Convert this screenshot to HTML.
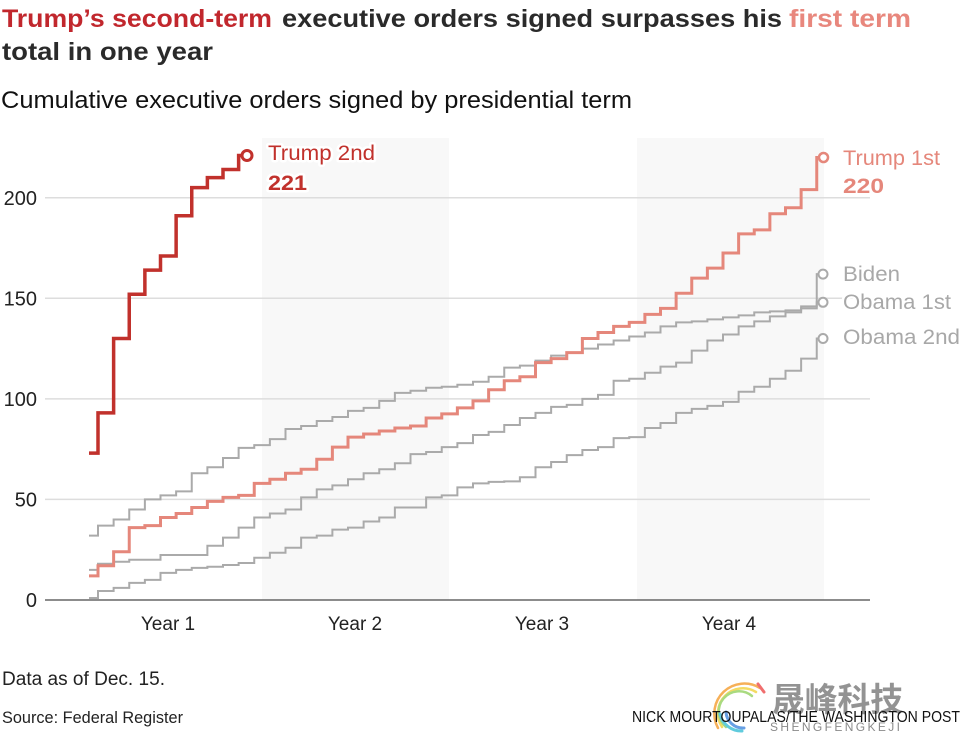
<!DOCTYPE html>
<html>
<head>
<meta charset="utf-8">
<style>
  html, body { margin: 0; padding: 0; background: #fff; }
  body { width: 961px; height: 733px; overflow: hidden; }
  svg { display: block; }
  text { font-family: "Liberation Sans", Arial, sans-serif; }
</style>
</head>
<body>
<svg width="961" height="733" viewBox="0 0 961 733" xmlns="http://www.w3.org/2000/svg">
  <rect x="0" y="0" width="961" height="733" fill="#fff"/>

  <!-- Title -->
  <text x="2" y="27" font-size="25" font-weight="bold" fill="#c1272d" textLength="270" lengthAdjust="spacingAndGlyphs">Trump’s second-term</text>
  <text x="282" y="27" font-size="25" font-weight="bold" fill="#2a2a2a" textLength="500" lengthAdjust="spacingAndGlyphs">executive orders signed surpasses his</text>
  <text x="789" y="27" font-size="25" font-weight="bold" fill="#e8877d" textLength="122" lengthAdjust="spacingAndGlyphs">first term</text>
  <text x="2" y="60" font-size="25" font-weight="bold" fill="#2a2a2a" textLength="211" lengthAdjust="spacingAndGlyphs">total in one year</text>

  <!-- Subtitle -->
  <text x="1" y="108" font-size="24" fill="#111" textLength="631" lengthAdjust="spacingAndGlyphs">Cumulative executive orders signed by presidential term</text>

  <!-- Shaded year bands -->
  <rect x="262" y="138" width="187" height="462" fill="#f8f8f8"/>
  <rect x="637" y="138" width="187" height="462" fill="#f8f8f8"/>

  <!-- Gridlines -->
  <g stroke="#dddddd" stroke-width="1.5">
    <line x1="45" y1="197.7" x2="870" y2="197.7"/>
    <line x1="45" y1="298.3" x2="870" y2="298.3"/>
    <line x1="45" y1="398.85" x2="870" y2="398.85"/>
    <line x1="45" y1="499.4" x2="870" y2="499.4"/>
  </g>
  <line x1="45" y1="600" x2="870" y2="600" stroke="#666" stroke-width="1.5"/>

  <!-- Y tick labels -->
  <g font-size="20" fill="#222" text-anchor="end">
    <text x="37" y="205">200</text>
    <text x="37" y="305.5">150</text>
    <text x="37" y="406">100</text>
    <text x="37" y="506.5">50</text>
    <text x="37" y="607">0</text>
  </g>

  <!-- X labels -->
  <g font-size="19" fill="#222" text-anchor="middle">
    <text x="168" y="630">Year 1</text>
    <text x="355" y="630">Year 2</text>
    <text x="542" y="630">Year 3</text>
    <text x="729" y="630">Year 4</text>
  </g>

  <!-- Series (data coords: x = month step index, y = value) -->
  <g transform="translate(98,600) scale(15.625,-2.0115)" fill="none" stroke-linejoin="miter" stroke-linecap="butt">
    <!-- Obama 2nd -->
    <path vector-effect="non-scaling-stroke" stroke="#aaaaaa" stroke-width="2"
      d="M-0.576 1 H0 V4.5 H1 V6 H2 V8.5 H3 V10 H4 V13.5 H5 V15 H6 V16 H7 V16.5 H8 V17.4 H9 V18.4 H10 V21 H11 V23.5 H12 V26 H13 V31 H14 V32 H15 V35 H16 V36 H17 V39 H18 V41 H19 V46 H20 V46 H21 V51 H22 V52 H23 V56 H24 V58 H25 V58.7 H26 V59 H27 V61 H28 V66 H29 V68.6 H30 V72 H31 V74.6 H32 V76 H33 V80.5 H34 V81 H35 V85.5 H36 V88 H37 V93 H38 V95 H39 V96.5 H40 V98.5 H41 V103.5 H42 V106 H43 V110 H44 V114 H45 V120 H46 V130 H46.1"/>
    <!-- Obama 1st -->
    <path vector-effect="non-scaling-stroke" stroke="#aaaaaa" stroke-width="2"
      d="M-0.576 15 H0 V18 H1 V19 H2 V20 H3 V20 H4 V22.4 H5 V22.4 H6 V22.4 H7 V27 H8 V31 H9 V36 H10 V41 H11 V43 H12 V45 H13 V51 H14 V55 H15 V57 H16 V60 H17 V63 H18 V65 H19 V68 H20 V72.5 H21 V73.6 H22 V76 H23 V78 H24 V82 H25 V83.6 H26 V87 H27 V90.5 H28 V93 H29 V96 H30 V97 H31 V100 H32 V102 H33 V109 H34 V110 H35 V113 H36 V116 H37 V118 H38 V124 H39 V129 H40 V132 H41 V136 H42 V138.5 H43 V141 H44 V143 H45 V145 H46 V148 H46.1"/>
    <!-- Biden -->
    <path vector-effect="non-scaling-stroke" stroke="#aaaaaa" stroke-width="2"
      d="M-0.576 32 H0 V37 H1 V40 H2 V45 H3 V50 H4 V52 H5 V54 H6 V63 H7 V66 H8 V70.6 H9 V75.6 H10 V77 H11 V80 H12 V85 H13 V86.5 H14 V89 H15 V91 H16 V94 H17 V95.5 H18 V99 H19 V103 H20 V104 H21 V105.5 H22 V106 H23 V107 H24 V108.5 H25 V111 H26 V115.5 H27 V116.5 H28 V119 H29 V121.5 H30 V123 H31 V125 H32 V127 H33 V129 H34 V131 H35 V133 H36 V136 H37 V138 H38 V138.5 H39 V139.5 H40 V140.5 H41 V141.5 H42 V143 H43 V143.5 H44 V144 H45 V146 H46 V162 H46.1"/>
    <!-- Trump 1st -->
    <path vector-effect="non-scaling-stroke" stroke="#e5877b" stroke-width="3"
      d="M-0.576 12 H0 V17 H1 V24 H2 V36 H3 V37 H4 V41 H5 V43 H6 V46 H7 V49 H8 V51 H9 V52 H10 V58 H11 V60 H12 V63 H13 V65 H14 V70 H15 V76 H16 V81 H17 V82.5 H18 V84 H19 V85.5 H20 V86.5 H21 V90.5 H22 V92.5 H23 V95.5 H24 V99 H25 V104.5 H26 V109 H27 V111 H28 V118 H29 V120 H30 V123 H31 V130 H32 V133 H33 V136 H34 V138 H35 V142 H36 V145 H37 V152.5 H38 V160 H39 V165 H40 V172.5 H41 V182 H42 V184 H43 V192 H44 V195 H45 V204 H46 V220 H46.1"/>
    <!-- Trump 2nd -->
    <path vector-effect="non-scaling-stroke" stroke="#c1312c" stroke-width="3.5"
      d="M-0.576 73 H0 V93 H1 V130 H2 V152 H3 V164 H4 V171 H5 V191 H6 V205 H7 V210 H8 V214 H9 V221 H9.2"/>
  </g>

  <!-- End circles -->
  <g fill="#fff">
    <circle cx="823" cy="338.5" r="4.5" stroke="#aaaaaa" stroke-width="2"/>
    <circle cx="823" cy="302.3" r="4.5" stroke="#aaaaaa" stroke-width="2"/>
    <circle cx="823" cy="274.1" r="4.5" stroke="#aaaaaa" stroke-width="2"/>
    <circle cx="823.5" cy="157.5" r="4.5" stroke="#e5877b" stroke-width="2.5"/>
    <circle cx="247" cy="155.5" r="5" stroke="#c1312c" stroke-width="3"/>
  </g>

  <!-- Series labels with white halo -->
  <g font-size="21.5" stroke="#fff" stroke-width="5" stroke-linejoin="round" paint-order="stroke">
    <text x="268" y="160" fill="#c1312c" textLength="107" lengthAdjust="spacingAndGlyphs">Trump 2nd</text>
    <text x="268" y="190" fill="#c1312c" font-weight="bold" textLength="39" lengthAdjust="spacingAndGlyphs">221</text>
    <text x="843" y="165" fill="#e5877b" textLength="97" lengthAdjust="spacingAndGlyphs">Trump 1st</text>
    <text x="843" y="193" fill="#e5877b" font-weight="bold" textLength="41" lengthAdjust="spacingAndGlyphs">220</text>
    <text x="843" y="281" fill="#a8a8a8" textLength="57" lengthAdjust="spacingAndGlyphs">Biden</text>
    <text x="843" y="309" fill="#a8a8a8" textLength="108" lengthAdjust="spacingAndGlyphs">Obama 1st</text>
    <text x="843" y="344" fill="#a8a8a8" textLength="117" lengthAdjust="spacingAndGlyphs">Obama 2nd</text>
  </g>

  <!-- Footer -->
  <text x="2" y="685" font-size="19" fill="#222" textLength="163" lengthAdjust="spacingAndGlyphs">Data as of Dec. 15.</text>
  <text x="2" y="723" font-size="17" fill="#222" textLength="181" lengthAdjust="spacingAndGlyphs">Source: Federal Register</text>

  <!-- Watermark -->
  <g fill="none" stroke-linecap="round" opacity="0.85">
    <path d="M760 688 A 30 30 0 0 0 718 728" stroke="#f5a33c" stroke-width="2.5"/>
    <path d="M756 692 A 25 25 0 0 0 722 727" stroke="#f2d54a" stroke-width="2.5"/>
    <path d="M752 696 A 20 20 0 0 0 726 727" stroke="#9bd46a" stroke-width="2.5"/>
    <path d="M720 714 A 22 22 0 0 0 742 731" stroke="#45c3d8" stroke-width="3"/>
    <path d="M726 712 A 17 17 0 0 0 744 728" stroke="#4d8fe0" stroke-width="3"/>
    <path d="M758 684 L764 692" stroke="#ee5555" stroke-width="3"/>
  </g>
  <text x="772" y="711" font-size="33" font-weight="bold" fill="#888" opacity="0.9" style="font-family:'Liberation Sans','Noto Sans CJK SC',sans-serif" textLength="131" lengthAdjust="spacingAndGlyphs">晟峰科技</text>
  <text x="770" y="731" font-size="12" fill="#8a8a8a" textLength="130" lengthAdjust="spacing">SHENGFENGKEJI</text>

  <text x="632" y="722" font-size="16" fill="#111" textLength="328" lengthAdjust="spacingAndGlyphs">NICK MOURTOUPALAS/THE WASHINGTON POST</text>
</svg>
</body>
</html>
